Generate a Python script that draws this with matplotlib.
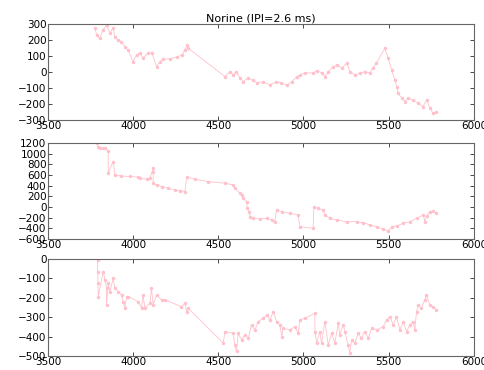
import matplotlib
matplotlib.use("Agg")
import matplotlib.pyplot as plt

# panel 1
x1 = [3776, 3786, 3805, 3823, 3844, 3864, 3882, 3893, 3911, 3930, 3952, 3970,
      3999, 4020, 4040, 4058, 4088, 4110, 4138, 4157, 4175, 4216, 4257, 4286,
      4304, 4315, 4322, 4539, 4568, 4588, 4605, 4627, 4645, 4674, 4703, 4727,
      4762, 4803, 4840, 4868, 4903, 4932, 4960, 4979, 5008, 5057, 5078, 5108,
      5126, 5145, 5174, 5196, 5225, 5255, 5273, 5303, 5331, 5360, 5390, 5407,
      5428, 5478, 5496, 5517, 5537, 5547, 5554, 5577, 5595, 5613, 5643, 5672,
      5701, 5724, 5742, 5760, 5778]
y1 = [275, 231, 210, 262, 294, 244, 275, 220, 200, 190, 158, 138,
      65, 106, 119, 88, 119, 119, 33, 63, 81, 81, 94, 106,
      138, 169, 150, -29, 2, -19, 2, -38, -61, -38, -50, -69,
      -61, -81, -61, -69, -81, -61, -31, -19, -6, -6, 8, -6,
      -29, 2, 33, 44, 25, 56, 2, -19, -6, 2, -6, 25,
      56, 148, 88, 13, -50, -92, -133, -163, -185, -163, -175, -194,
      -217, -175, -227, -258, -250]

# panel 2
x2 = [3786, 3795, 3805, 3823, 3835, 3854, 3854, 3883, 3893, 3930, 3981, 4030,
      4040, 4079, 4099, 4118, 4118, 4118, 4138, 4167, 4206, 4245, 4275, 4304,
      4314, 4363, 4441, 4539, 4586, 4598, 4627, 4637, 4646, 4666, 4670, 4682,
      4686, 4705, 4744, 4784, 4813, 4832, 4842, 4872, 4920, 4969, 4979, 5057,
      5061, 5087, 5116, 5126, 5155, 5194, 5253, 5312, 5351, 5390, 5429, 5468,
      5497, 5517, 5547, 5585, 5625, 5664, 5703, 5713, 5723, 5742, 5762, 5777]
y2 = [1194, 1131, 1100, 1100, 1100, 1038, 632, 850, 600, 580, 570, 560,
      538, 519, 538, 725, 662, 444, 413, 381, 350, 319, 306, 288,
      556, 519, 475, 444, 413, 350, 256, 225, 163, 100, -25, -88,
      -181, -213, -225, -213, -244, -275, -56, -88, -119, -150, -369, -400,
      -3, -25, -56, -150, -213, -244, -275, -275, -294, -338, -369, -419,
      -444, -381, -356, -306, -275, -213, -150, -275, -175, -88, -75, -106]

# panel 3
x3 = [3792, 3792, 3794, 3795, 3825, 3835, 3844, 3844, 3854, 3864, 3883, 3893,
      3913, 3932, 3942, 3952, 3962, 3971, 4030, 4050, 4059, 4069, 4099, 4108,
      4118, 4138, 4167, 4187, 4284, 4304, 4314, 4324, 4529, 4539, 4588, 4597,
      4607, 4617, 4637, 4656, 4676, 4695, 4715, 4734, 4764, 4784, 4803, 4823,
      4842, 4862, 4872, 4881, 4920, 4950, 4969, 4979, 5008, 5067, 5067, 5077,
      5096, 5106, 5126, 5145, 5165, 5184, 5204, 5213, 5233, 5243, 5262, 5272,
      5282, 5301, 5321, 5340, 5360, 5380, 5400, 5429, 5468, 5488, 5507, 5527,
      5546, 5566, 5585, 5605, 5624, 5644, 5653, 5664, 5673, 5692, 5712, 5722,
      5741, 5761, 5780]
y3 = [-5, -65, -125, -194, -65, -108, -151, -237, -125, -168, -99, -151,
      -168, -185, -220, -254, -194, -194, -220, -254, -185, -254, -228, -151,
      -237, -185, -211, -211, -246, -228, -271, -254, -434, -374, -383, -443,
      -477, -383, -417, -391, -408, -340, -366, -323, -306, -288, -314, -271,
      -323, -340, -400, -357, -366, -349, -383, -314, -306, -280, -374, -434,
      -374, -434, -323, -443, -383, -434, -332, -391, -340, -374, -443, -486,
      -417, -434, -383, -408, -374, -408, -357, -366, -349, -314, -297, -340,
      -297, -366, -323, -374, -340, -323, -366, -271, -237, -254, -211, -185,
      -237, -245, -263]

plt.rcParams['font.size'] = 7.5
plt.rcParams['xtick.direction'] = 'in'
plt.rcParams['ytick.direction'] = 'in'
plt.rcParams['xtick.top'] = True
plt.rcParams['ytick.right'] = True

fig = plt.figure(figsize=(4.84, 3.70), dpi=100)
fig.patch.set_facecolor('white')

panels = [
    (x1, y1, [0.099, 0.676, 0.880, 0.259], (-300, 300), range(-300, 301, 100)),
    (x2, y2, [0.099, 0.354, 0.880, 0.260], (-600, 1200), range(-600, 1201, 200)),
    (x3, y3, [0.099, 0.038, 0.880, 0.262], (-500, 0), range(-500, 1, 100)),
]

for i, (xs, ys, rect, ylim, yt) in enumerate(panels):
    ax = fig.add_axes(rect)
    ax.plot(xs, ys, color='pink', marker='o', markersize=2.5, markeredgewidth=0,
            linewidth=0.6)
    ax.set_xlim(3500, 6000)
    ax.set_ylim(*ylim)
    ax.set_xticks(range(3500, 6001, 500))
    ax.set_yticks(list(yt))
    ax.tick_params(length=3, width=0.5, pad=1)
    for s in ax.spines.values():
        s.set_color('0.4')
        s.set_linewidth(0.8)
    if i == 0:
        ax.set_title("Norine (IPI=2.6 ms)", fontsize=8, pad=2)

fig.savefig("out.png", dpi=100, facecolor='white')
